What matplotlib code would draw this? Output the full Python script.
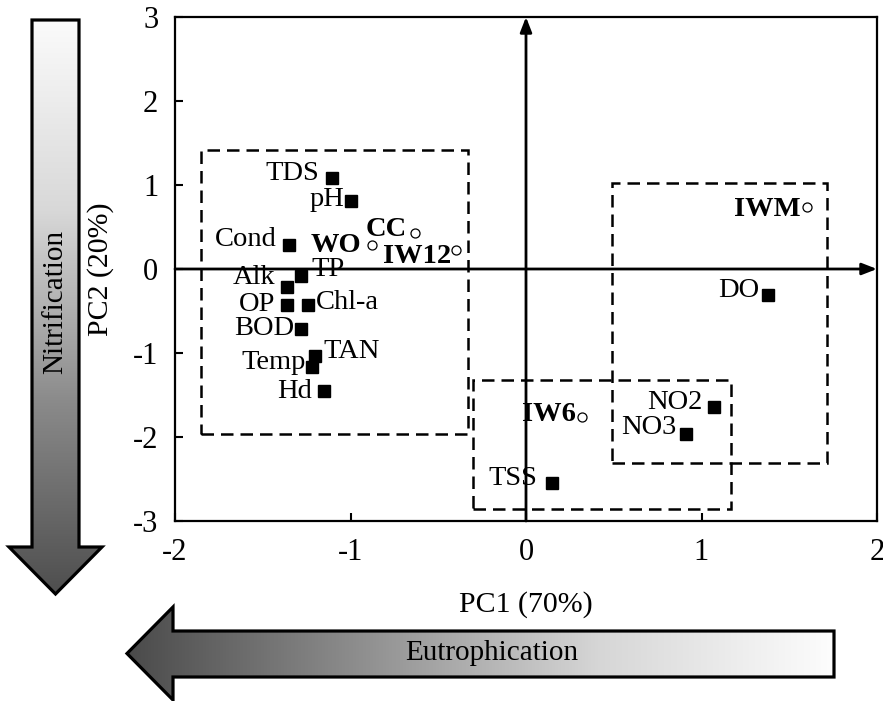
import numpy as np
import matplotlib
matplotlib.use("Agg")
import matplotlib.pyplot as plt
from matplotlib.patches import Polygon, Rectangle
from matplotlib.colors import LinearSegmentedColormap

plt.rcParams['font.family'] = ['Liberation Serif', 'DejaVu Serif']
plt.rcParams['axes.unicode_minus'] = False

# ---------------- data ----------------
variables = ["TDS", "pH", "Cond", "TP", "Alk", "OP", "Chl-a", "BOD", "TAN",
             "Temp", "Hd", "DO", "NO2", "NO3", "TSS"]
var_pc1 = [-1.105, -1.00, -1.35, -1.28, -1.36, -1.36, -1.24, -1.28, -1.20,
           -1.22, -1.15, 1.38, 1.07, 0.91, 0.15]
var_pc2 = [1.08, 0.81, 0.29, -0.08, -0.21, -0.43, -0.43, -0.71, -1.04,
           -1.17, -1.45, -0.31, -1.64, -1.96, -2.55]

sites = ["WO", "CC", "IW12", "IWM", "IW6"]
site_pc1 = [-0.88, -0.63, -0.40, 1.60, 0.32]
site_pc2 = [0.29, 0.43, 0.23, 0.74, -1.76]

# cluster boxes (x0, x1, y0, y1) in PC space
group_x0 = [-1.85, 0.49, -0.30]
group_x1 = [-0.33, 1.715, 1.17]
group_y0 = [-1.96, -2.31, -2.86]
group_y1 = [1.42, 1.02, -1.32]

x_ticks = [-2, -1, 0, 1, 2]
y_ticks = [-3, -2, -1, 0, 1, 2, 3]

# ---------------- label layout (pixel offsets) ----------------
var_offsets = {
    "TDS": (-13, 5, 'right'), "pH": (-6, 1, 'right'), "Cond": (-12, 5, 'right'),
    "TP": (10, 6, 'left'), "Alk": (-12, 9, 'right'), "OP": (-12, 1, 'right'),
    "Chl-a": (7, 3, 'left'), "BOD": (-7, 0, 'right'), "TAN": (8, 5, 'left'),
    "Temp": (-6, 5, 'right'), "Hd": (-12, -1, 'right'), "DO": (-9, 5, 'right'),
    "NO2": (-11, 4, 'right'), "NO3": (-9, 6, 'right'), "TSS": (-15, 5, 'right'),
}
site_offsets = {
    "WO": (-10, -1), "CC": (-9, 3), "IW12": (-5, -7), "IWM": (-6, -3), "IW6": (-6, 2),
}

W, H = 883, 701
fig = plt.figure(figsize=(W / 100, H / 100), dpi=100)

# ---------------- background overlay for gradient arrows ----------------
bg = fig.add_axes([0, 0, 1, 1], zorder=0)
bg.set_xlim(0, W)
bg.set_ylim(H, 0)
bg.axis('off')

cmap_v = LinearSegmentedColormap.from_list('v', ['#fbfbfb', '#d8d8d8', '#8a8a8a', '#4e4e4e'])
cmap_h = LinearSegmentedColormap.from_list('h', ['#4a4a4a', '#8f8f8f', '#d6d6d6', '#fdfdfd'])

# vertical arrow (Nitrification)
v_poly = [(32, 20), (79, 20), (79, 547), (102, 547), (55.5, 594), (9, 547), (32, 547)]
grad = np.linspace(0, 1, 256).reshape(-1, 1)
im = bg.imshow(grad, cmap=cmap_v, aspect='auto', extent=(8, 103, 595, 19), zorder=1)
p = Polygon(v_poly, closed=True, facecolor='none', edgecolor='black', lw=2.3,
            joinstyle='miter', zorder=2)
bg.add_patch(p)
im.set_clip_path(p)
bg.text(55.5, 302, "Nitrification", rotation=90, ha='center', va='center',
        fontsize=21, zorder=3)

# horizontal arrow (Eutrophication)
h_poly = [(127, 653.5), (173, 607), (173, 631), (834, 631), (834, 677),
          (173, 677), (173, 700)]
grad_h = np.linspace(0, 1, 256).reshape(1, -1)
im2 = bg.imshow(grad_h, cmap=cmap_h, aspect='auto', extent=(126, 835, 701, 606), zorder=1)
p2 = Polygon(h_poly, closed=True, facecolor='none', edgecolor='black', lw=2.3,
             joinstyle='miter', zorder=2)
bg.add_patch(p2)
im2.set_clip_path(p2)
bg.text(492, 653, "Eutrophication", ha='center', va='center', fontsize=21, zorder=3)

# ---------------- main PCA axes ----------------
ax = fig.add_axes([175 / W, (H - 521) / H, (877 - 175) / W, (521 - 17) / H], zorder=1)
ax.set_xlim(-2, 2)
ax.set_ylim(-3, 3)
ax.set_xticks(x_ticks)
ax.set_yticks(y_ticks)
ax.set_xticklabels([str(t) for t in x_ticks])
ax.set_yticklabels([str(t) for t in y_ticks])
ax.tick_params(direction='in', length=6, width=1.5, labelsize=22, pad=12)
for s in ax.spines.values():
    s.set_linewidth(1.6)

ax.set_xlabel("PC1 (70%)", fontsize=21.5)
ax.set_ylabel("PC2 (20%)", fontsize=21.5)
ax.xaxis.set_label_coords(0.5, -0.14)
ax.yaxis.set_label_coords(-0.087, 0.5)

# axis arrows through origin
ax.annotate('', xy=(0, 3), xytext=(0, -3),
            arrowprops=dict(arrowstyle='-|>,head_length=0.9,head_width=0.35', lw=2,
                            color='black', shrinkA=0, shrinkB=0), zorder=2)
ax.annotate('', xy=(2, 0), xytext=(-2, 0),
            arrowprops=dict(arrowstyle='-|>,head_length=0.9,head_width=0.35', lw=2,
                            color='black', shrinkA=0, shrinkB=0), zorder=2)

# dashed group boxes
for x0, x1, y0, y1 in zip(group_x0, group_x1, group_y0, group_y1):
    ax.add_patch(Rectangle((x0, y0), x1 - x0, y1 - y0, fill=False, edgecolor='black',
                           lw=1.8, linestyle=(0, (5, 2.8)), zorder=3))

# variables (filled squares)
ax.plot(var_pc1, var_pc2, linestyle='none', marker='s', markersize=8,
        color='black', zorder=5)
for name, x, y in zip(variables, var_pc1, var_pc2):
    dx, dy, ha = var_offsets[name]
    ax.annotate(name, (x, y), xytext=(dx, dy), textcoords='offset pixels',
                ha=ha, va='center', fontsize=20.5, zorder=6)

# sites (open circles)
ax.plot(site_pc1, site_pc2, linestyle='none', marker='o', markersize=6.5,
        markerfacecolor='white', markeredgecolor='black', markeredgewidth=0.9, zorder=5)
for name, x, y in zip(sites, site_pc1, site_pc2):
    dx, dy = site_offsets[name]
    ax.annotate(name, (x, y), xytext=(dx, dy), textcoords='offset pixels',
                ha='right', va='center', fontsize=20.5, fontweight='bold', zorder=6)

fig.savefig("out.png", dpi=100)
